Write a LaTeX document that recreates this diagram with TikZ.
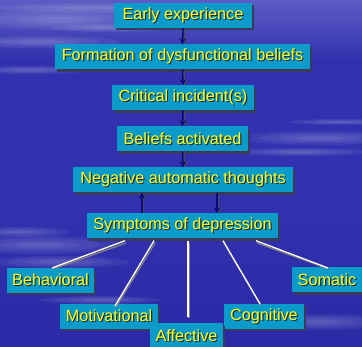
\documentclass[tikz,border=0pt]{standalone}
\usepackage{fontspec}
\setmainfont{Liberation Sans}
\usetikzlibrary{shadows,arrows.meta}
\definecolor{bgblue}{HTML}{3232B0}
\definecolor{bgdark}{HTML}{2A2AA6}
\definecolor{bglight}{HTML}{5C5CC4}
\definecolor{boxfill}{HTML}{0A9BCB}
\definecolor{boxshadow}{HTML}{3A3A5A}
\definecolor{txtyellow}{HTML}{FFFF1E}
\definecolor{txtshadow}{HTML}{2A2A2A}
\definecolor{arrownavy}{HTML}{0A0A80}
\newcommand\shtext[1]{\leavevmode\rlap{\kern1.2pt\raisebox{-1.2pt}{\color{txtshadow}#1}}#1}
\tikzset{
  box/.style={fill=boxfill, text=txtyellow, inner sep=0pt, minimum height=25pt,
    font=\fontsize{16.2}{18}\selectfont,
    drop shadow={shadow xshift=2.2pt, shadow yshift=-2.2pt, fill=boxshadow, opacity=1}},
  flow/.style={arrownavy, line width=1.6pt, -{Stealth[length=6pt,width=6.5pt]}},
  flowsh/.style={black!70, line width=1.6pt, -{Stealth[length=6pt,width=6.5pt]}},
  branch/.style={white, line width=1.3pt},
  branchsh/.style={black!50, line width=1.3pt},
  cloud/.style={white, fill opacity=0.06}
}
\begin{document}
\begin{tikzpicture}[x=1pt,y=-1pt]
\useasboundingbox (0,0) rectangle (362,347);
% background
\shade[top color=bglight, bottom color=bgblue, middle color=bgblue] (0,0) rectangle (362,120);
\fill[bgblue] (0,119) rectangle (362,200);
\shade[top color=bgblue, bottom color=bgdark] (0,199) rectangle (362,347);
% cloud streaks
\foreach \cx/\cy/\rx/\ry in {60/20/90/10, 40/42/80/6, 90/8/100/5, 30/70/60/4, 110/28/60/4, 320/138/80/7, 300/152/70/4, 340/122/50/3,
  40/245/80/9, 60/262/70/6, 20/232/50/5, 320/322/70/8, 100/300/60/4}{
  \foreach \s in {1,0.75,0.5,0.3}{
    \fill[cloud] (\cx,\cy) ellipse ({\rx*\s} and {\ry*\s});
  }
}
% nodes
\node[box, minimum width=138pt] (early) at (183,15.5) {\shtext{Early experience}};
\node[box, minimum width=255pt] (form) at (182.5,57) {\shtext{Formation of dysfunctional beliefs}};
\node[box, minimum width=142pt] (crit) at (183,98) {\shtext{Critical incident(s)}};
\node[box, minimum width=131pt] (bel) at (182.5,139) {\shtext{Beliefs activated}};
\node[box, minimum width=220pt] (nat) at (183,180) {\shtext{Negative automatic thoughts}};
\node[box, minimum width=191pt] (sym) at (182.5,226) {\shtext{Symptoms of depression}};
\node[box, minimum width=87pt] (beh) at (50.5,280.5) {\shtext{Behavioral}};
\node[box, minimum width=70pt] (som) at (327,280) {\shtext{Somatic}};
\node[box, minimum width=98pt] (mot) at (109,316.5) {\shtext{Motivational}};
\node[box, minimum width=80pt] (cog) at (264,316.5) {\shtext{Cognitive}};
\node[box, minimum width=73pt] (aff) at (186.5,336) {\shtext{Affective}};
% flow arrows
\foreach \a/\b in {early/form, form/crit, crit/bel, bel/nat}{
  \draw[flowsh] ([xshift=1.5pt,yshift=-1.5pt]\a.south) -- ([xshift=1.5pt]\b.north);
  \draw[flow] (\a.south) -- (\b.north);
}
\draw[flowsh] ([xshift=1.5pt]sym.north -| 142,0) -- ([xshift=1.5pt,yshift=-1pt]nat.south -| 142,0);
\draw[flow] (sym.north -| 142,0) -- (nat.south -| 142,0);
\draw[flowsh] ([xshift=1.5pt,yshift=-1.5pt]nat.south -| 217,0) -- ([xshift=1.5pt]sym.north -| 217,0);
\draw[flow] (nat.south -| 217,0) -- (sym.north -| 217,0);
% branches
\foreach \n/\sx/\ex/\ey in {beh/125/52/268, mot/154/115/306, aff/188/188/317, cog/223/260/304, som/256/328/268}{
  \draw[branchsh] (\sx+1,243) -- (\ex+1,\ey+1);
  \draw[branch] (sym.south -| \sx,0) ++(0,2) -- (\ex,\ey);
}
\end{tikzpicture}
\end{document}
